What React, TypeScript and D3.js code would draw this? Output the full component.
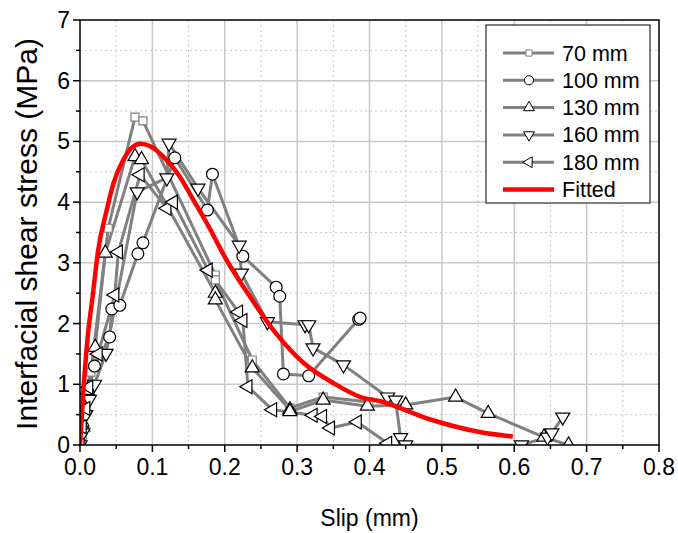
import { useEffect, useRef } from 'react'
import * as d3 from 'd3'

// slip (mm) and interfacial shear stress (MPa)
const slip70 = [0, 0.003, 0.008, 0.015, 0.039, 0.076, 0.087, 0.187, 0.187, 0.238, 0.29, 0.336, 0.399]
const tau70 = [0, 0.15, 0.6, 1.2, 3.57, 5.4, 5.34, 2.8, 2.72, 1.4, 0.61, 0.79, 0.71]

const slip100 = [0, 0.004, 0.01, 0.02, 0.041, 0.044, 0.055, 0.08, 0.087, 0.131, 0.176, 0.183, 0.225, 0.271, 0.276, 0.281, 0.316, 0.385, 0.387]
const tau100 = [0, 0.3, 0.8, 1.3, 1.78, 2.24, 2.3, 3.15, 3.33, 4.73, 3.87, 4.46, 3.11, 2.6, 2.45, 1.17, 1.14, 2.07, 2.09]

const slip130 = [0, 0.004, 0.01, 0.021, 0.035, 0.076, 0.085, 0.187, 0.187, 0.238, 0.29, 0.29, 0.336, 0.397, 0.45, 0.519, 0.564, 0.641, 0.675]
const tau130 = [0, 0.3, 0.9, 1.61, 3.16, 4.75, 4.7, 2.5, 2.39, 1.27, 0.58, 0.55, 0.74, 0.64, 0.66, 0.79, 0.52, 0.13, 0]

const slip160 = [0, 0.004, 0.008, 0.013, 0.02, 0.036, 0.079, 0.12, 0.123, 0.163, 0.22, 0.223, 0.259, 0.311, 0.316, 0.322, 0.364, 0.425, 0.436, 0.443, 0.45, 0.61, 0.646, 0.652, 0.667]
const tau160 = [0, 0.2, 0.5, 0.75, 1.0, 1.51, 4.17, 4.4, 4.97, 4.23, 3.29, 2.83, 2.03, 1.98, 1.98, 1.6, 1.32, 0.79, 0.74, 0.12, 0, 0, 0.13, 0.2, 0.46]

const slip180 = [0, 0.003, 0.008, 0.012, 0.025, 0.048, 0.053, 0.083, 0.12, 0.129, 0.177, 0.219, 0.225, 0.232, 0.266, 0.322, 0.335, 0.346, 0.383, 0.425]
const tau180 = [0, 0.3, 0.6, 0.95, 1.5, 2.47, 3.18, 4.45, 3.9, 4.0, 2.88, 2.19, 2.05, 0.96, 0.58, 0.49, 0.47, 0.28, 0.38, 0.03]

const slipFit = [0, 0.005, 0.01, 0.018, 0.025, 0.037, 0.046, 0.06, 0.083, 0.097, 0.115, 0.138, 0.156, 0.18, 0.2, 0.235, 0.27, 0.309, 0.35, 0.3875, 0.415, 0.484, 0.554, 0.598]
const tauFit = [0, 0.95, 1.7, 2.5, 3.2, 3.87, 4.3, 4.7, 4.96, 4.92, 4.75, 4.42, 4.05, 3.55, 3.1, 2.44, 1.85, 1.35, 1.02, 0.79, 0.72, 0.42, 0.21, 0.14]

const seriesNames = ['70 mm', '100 mm', '130 mm', '160 mm', '180 mm']
const seriesSlip = [slip70, slip100, slip130, slip160, slip180]
const seriesTau = [tau70, tau100, tau130, tau160, tau180]
const markerKinds = ['square', 'circle', 'up', 'down', 'left']

const xTicks = [0, 0.1, 0.2, 0.3, 0.4, 0.5, 0.6, 0.7, 0.8]
const yTicks = [0, 1, 2, 3, 4, 5, 6, 7]

const W = 678
const H = 533
const FONT = '"Liberation Sans", Arial, sans-serif'

const markerPath = (kind: string, big: boolean) => {
  const k = big ? 1 : 0.6
  if (kind === 'square') return d3.symbol(d3.symbolSquare, 64 * k)()
  if (kind === 'circle') return d3.symbol(d3.symbolCircle, 110 * k)()
  return d3.symbol(d3.symbolTriangle, 85 * k)()
}
const markerRotate = (kind: string) => (kind === 'down' ? 180 : kind === 'left' ? -90 : 0)

const App = () => {
  const ref = useRef<SVGSVGElement>(null)

  useEffect(() => {
    const svg = d3.select(ref.current)
    svg.selectAll('*').remove()

    const margin = { top: 20, right: 19, bottom: 88, left: 80 }
    const width = W - margin.left - margin.right
    const height = H - margin.top - margin.bottom

    const x = d3.scaleLinear().domain([0, 0.8]).range([0, width])
    const y = d3.scaleLinear().domain([0, 7]).range([height, 0])

    svg.append('defs').append('clipPath').attr('id', 'plotclip')
      .append('rect').attr('width', width).attr('height', height)

    const g = svg.append('g').attr('transform', `translate(${margin.left},${margin.top})`)

    // grid: solid at major, dotted at minor
    const grid = g.append('g')
    xTicks.slice(1, -1).forEach((t) => {
      grid.append('line').attr('x1', x(t)).attr('x2', x(t)).attr('y1', 0).attr('y2', height)
        .attr('stroke', '#c8c8c8').attr('stroke-width', 1.5)
    })
    xTicks.slice(0, -1).forEach((t) => {
      grid.append('line').attr('x1', x(t + 0.05)).attr('x2', x(t + 0.05)).attr('y1', 0).attr('y2', height)
        .attr('stroke', '#c8c8c8').attr('stroke-width', 1).attr('stroke-dasharray', '2,3')
    })
    yTicks.slice(1, -1).forEach((t) => {
      grid.append('line').attr('x1', 0).attr('x2', width).attr('y1', y(t)).attr('y2', y(t))
        .attr('stroke', '#c8c8c8').attr('stroke-width', 1.5)
    })
    yTicks.slice(0, -1).forEach((t) => {
      grid.append('line').attr('x1', 0).attr('x2', width).attr('y1', y(t + 0.5)).attr('y2', y(t + 0.5))
        .attr('stroke', '#c8c8c8').attr('stroke-width', 1).attr('stroke-dasharray', '2,3')
    })

    const plot = g.append('g').attr('clip-path', 'url(#plotclip)')

    // gray connecting lines
    seriesSlip.forEach((sl, i) => {
      const pts = sl.map((s, j) => [x(s), y(seriesTau[i][j])] as [number, number])
      plot.append('path').attr('d', d3.line()(pts)).attr('fill', 'none')
        .attr('stroke', '#808080').attr('stroke-width', 3).attr('stroke-linejoin', 'round')
    })

    // markers
    seriesSlip.forEach((sl, i) => {
      const kind = markerKinds[i]
      sl.forEach((s, j) => {
        plot.append('path')
          .attr('d', markerPath(kind, true))
          .attr('transform', `translate(${x(s)},${y(seriesTau[i][j])}) rotate(${markerRotate(kind)})`)
          .attr('fill', 'white')
          .attr('stroke', kind === 'square' ? '#808080' : 'black')
          .attr('stroke-width', 1.2)
      })
    })

    // fitted curve
    const fitPts = slipFit.map((s, j) => [x(s), y(tauFit[j])] as [number, number])
    plot.append('path').attr('d', d3.line().curve(d3.curveMonotoneX)(fitPts)).attr('fill', 'none')
      .attr('stroke', '#ff0000').attr('stroke-width', 4.5)

    // frame
    g.append('rect').attr('width', width).attr('height', height)
      .attr('fill', 'none').attr('stroke', 'black').attr('stroke-width', 1.5)

    // ticks
    const ticks = g.append('g').attr('stroke', 'black').attr('stroke-width', 1.5)
    xTicks.forEach((t) => {
      ticks.append('line').attr('x1', x(t)).attr('x2', x(t)).attr('y1', height).attr('y2', height + 7)
      if (t < 0.8) ticks.append('line').attr('x1', x(t + 0.05)).attr('x2', x(t + 0.05)).attr('y1', height).attr('y2', height + 4)
    })
    yTicks.forEach((t) => {
      ticks.append('line').attr('x1', 0).attr('x2', -7).attr('y1', y(t)).attr('y2', y(t))
      if (t < 7) ticks.append('line').attr('x1', 0).attr('x2', -4).attr('y1', y(t + 0.5)).attr('y2', y(t + 0.5))
    })

    // tick labels
    xTicks.forEach((t) => {
      g.append('text').attr('x', x(t)).attr('y', height + 30).attr('text-anchor', 'middle')
        .attr('font-family', FONT).attr('font-size', 23).text(t.toFixed(1))
    })
    yTicks.forEach((t) => {
      g.append('text').attr('x', -10).attr('y', y(t) + 8).attr('text-anchor', 'end')
        .attr('font-family', FONT).attr('font-size', 23).text(String(t))
    })

    // axis titles
    g.append('text').attr('x', width / 2).attr('y', height + 81).attr('text-anchor', 'middle')
      .attr('font-family', FONT).attr('font-size', 23).text('Slip (mm)')
    g.append('text').attr('transform', 'rotate(-90)').attr('x', -214).attr('y', -43)
      .attr('text-anchor', 'middle').attr('font-family', FONT).attr('font-size', 30)
      .text('Interfacial shear stress (MPa)')

    // legend
    const lg = svg.append('g').attr('transform', 'translate(486,25)')
    lg.append('rect').attr('width', 164).attr('height', 178).attr('fill', 'white')
      .attr('stroke', 'black').attr('stroke-width', 1)
    const rowY = (i: number) => 28 + i * 27.3
    seriesNames.forEach((name, i) => {
      const kind = markerKinds[i]
      lg.append('line').attr('x1', 17).attr('x2', 68).attr('y1', rowY(i)).attr('y2', rowY(i))
        .attr('stroke', '#808080').attr('stroke-width', 3)
      lg.append('path').attr('d', markerPath(kind, false))
        .attr('transform', `translate(43,${rowY(i)}) rotate(${markerRotate(kind)})`)
        .attr('fill', 'white').attr('stroke', kind === 'square' ? '#808080' : 'black').attr('stroke-width', 1)
      lg.append('text').attr('x', 76).attr('y', rowY(i) + 7.5).attr('font-family', FONT)
        .attr('font-size', 21.5).text(name)
    })
    lg.append('line').attr('x1', 17).attr('x2', 68).attr('y1', rowY(5)).attr('y2', rowY(5))
      .attr('stroke', '#ff0000').attr('stroke-width', 4.5)
    lg.append('text').attr('x', 76).attr('y', rowY(5) + 7.5).attr('font-family', FONT)
      .attr('font-size', 21.5).text('Fitted')
  }, [])

  return (
    <div style={{ position: 'absolute', left: 0, top: 0 }}>
      <svg ref={ref} width={W} height={H} style={{ display: 'block', background: 'white' }} />
    </div>
  )
}

export default App
